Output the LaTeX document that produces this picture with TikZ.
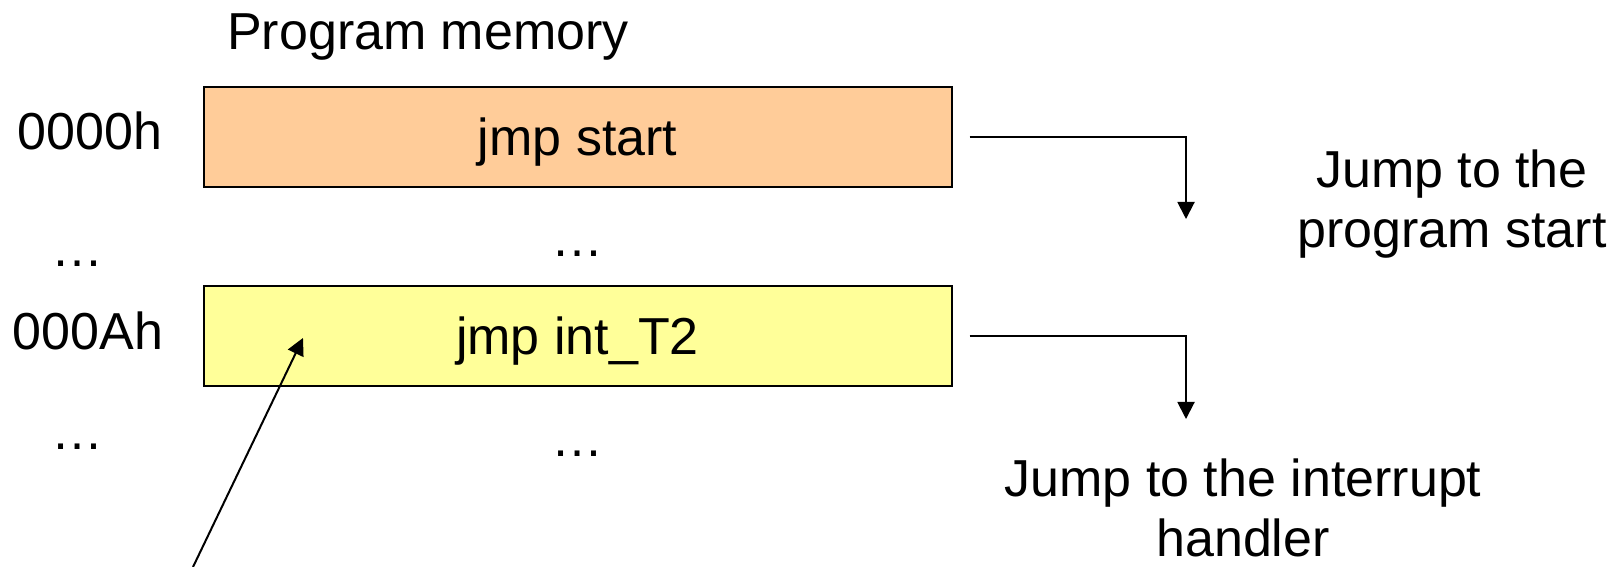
\documentclass[tikz,border=0pt]{standalone}
\usepackage{fontspec}
\setmainfont{Liberation Sans}
\usetikzlibrary{arrows.meta, positioning}
\definecolor{startfill}{RGB}{255,204,153}
\definecolor{intfill}{RGB}{255,255,153}
\tikzset{
    cell/.style={rectangle, minimum width=374pt, minimum height=50pt, text height=19.5pt, text depth=1pt, text centered, draw=black, line width=1pt},
    addr/.style={anchor=base},
    note/.style={align=center, inner sep=1pt},
    arrow/.style={-{Triangle[length=8.5pt,width=8.5pt]}, line width=1pt}
}
\begin{document}
\begin{tikzpicture}[x=0.5pt, y=0.5pt, node distance=48.5pt, font=\fontsize{26}{30}\selectfont]
\useasboundingbox (0,0) rectangle (1621,567);

% Memory cells
\node (jmpstart) [cell, fill=startfill] at (577.5,429.5) {jmp start};
\node (jmpint) [cell, fill=intfill, below=of jmpstart] {jmp int\_T2};

% Title and addresses
\node (title) [addr] at (428,517) {Program memory};
\node (addr0) [addr] at (90,417) {0000h};
\node (addrA) [addr] at (88,217) {000Ah};
\node (gap1) [addr] at (77,300) {…};
\node (gap2) [addr] at (577,310) {…};
\node (gap3) [addr] at (77,117) {…};
\node (gap4) [addr] at (577,110) {…};

% Notes
\node (notestart) [note] at (1452,363) {Jump to the\\program start};
\node (noteint) [note] at (1243,59) {Jump to the interrupt\\handler};

% Jumps
\coordinate (startdrop) at (1186,348);
\coordinate (intdrop) at (1186,148);
\draw [arrow] ([xshift=8.5pt]jmpstart.east) -| (startdrop);
\draw [arrow] ([xshift=8.5pt]jmpint.east) -| (intdrop);

% Interrupt vector
\coordinate (vectail) at (193,0);
\coordinate (vechead) at (303,229);
\draw [arrow] (vectail) -- (vechead);

\end{tikzpicture}
\end{document}
